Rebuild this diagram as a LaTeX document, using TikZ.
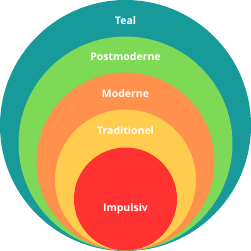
\documentclass[tikz,border=0pt]{standalone}
\usepackage{fontspec}
\setmainfont{Open Sans}
\definecolor{cteal}{RGB}{24,154,155}
\definecolor{cgreen}{RGB}{126,217,87}
\definecolor{corange}{RGB}{255,145,77}
\definecolor{cyellow}{RGB}{255,204,77}
\definecolor{cred}{RGB}{255,49,49}
\begin{document}
\begin{tikzpicture}[x=1pt,y=-1pt,
  ring/.style={circle,inner sep=0pt,minimum size=#1},
  lbl/.style={text=white,font=\bfseries\fontsize{10.5}{12}\selectfont}]
\useasboundingbox (0,0) rectangle (251,251);
\node[ring=251pt,fill=cteal] (teal) at (125.5,125.5) {};
\node[ring=214pt,fill=cgreen] (green) at (125.5,143.5) {};
\node[ring=178pt,fill=corange] (orange) at (125.5,161.5) {};
\node[ring=141pt,fill=cyellow] (yellow) at (125.5,180) {};
\node[ring=103pt,fill=cred] (red) at (125.5,199) {};
\node[lbl] (t1) at (125.5,20.7) {Teal};
\node[lbl] (t2) at (125.5,56.7) {Postmoderne};
\node[lbl] (t3) at (125.5,93.3) {Moderne};
\node[lbl] (t4) at (125.5,131) {Traditionel};
\node[lbl] (t5) at (125.5,209) {Impulsiv};
\end{tikzpicture}
\end{document}
